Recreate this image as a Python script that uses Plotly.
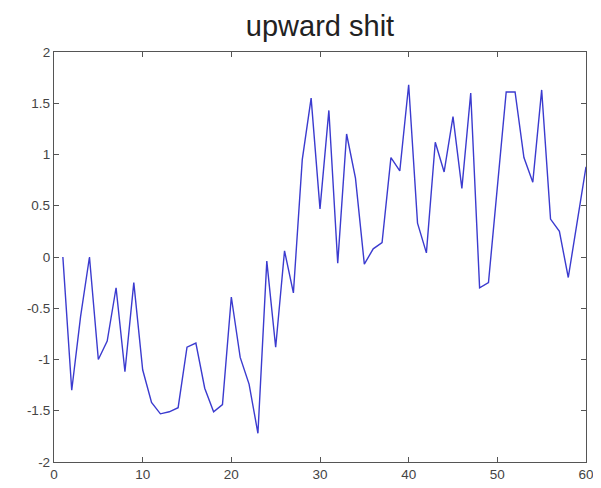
import plotly.graph_objects as go

x_vals = list(range(1, 61))
y_vals = [0.0, -1.30, -0.58, 0.0, -1.0, -0.82, -0.30, -1.12, -0.25, -1.10,
          -1.42, -1.53, -1.51, -1.47, -0.88, -0.84, -1.28, -1.51, -1.44, -0.39,
          -0.98, -1.24, -1.72, -0.04, -0.88, 0.06, -0.35, 0.95, 1.55, 0.47,
          1.43, -0.06, 1.20, 0.77, -0.07, 0.08, 0.14, 0.97, 0.84, 1.68,
          0.33, 0.04, 1.12, 0.83, 1.37, 0.67, 1.60, -0.30, -0.25, 0.68,
          1.61, 1.61, 0.97, 0.73, 1.63, 0.37, 0.25, -0.20, 0.34, 0.88]

x_ticks = [0, 10, 20, 30, 40, 50, 60]
y_ticks = [-2, -1.5, -1, -0.5, 0, 0.5, 1, 1.5, 2]
y_tick_text = ["-2", "-1.5", "-1", "-0.5", "0", "0.5", "1", "1.5", "2"]
title_text = "upward shit"

fig = go.Figure()
fig.add_trace(go.Scatter(x=x_vals, y=y_vals, mode="lines",
                         line=dict(color="#3b3bcf", width=1.4),
                         showlegend=False, hoverinfo="skip"))

axis_common = dict(showgrid=False, zeroline=False, showline=True,
                   linecolor="#555555", linewidth=1.3, mirror="allticks",
                   ticks="inside", ticklen=5, tickcolor="#555555", automargin=False,
                   tickfont=dict(family="Liberation Sans, Arial", size=13.5, color="#444444"))

# page body has an 8px default margin, so the figure is sized to fit the window
fig.update_layout(
    width=593, height=480,
    margin=dict(l=46, r=15, t=44, b=26, autoexpand=False),
    paper_bgcolor="white", plot_bgcolor="white",
    title=dict(text=title_text, x=0.5, xanchor="center", xref="paper",
               y=1 - 18 / 480, yref="container", yanchor="middle", automargin=False,
               font=dict(family="Liberation Sans, Arial", size=29, color="#222222")),
    xaxis=dict(range=[0, 60], tickvals=x_ticks, ticktext=[str(t) for t in x_ticks],
               **axis_common),
    yaxis=dict(range=[-2, 2], tickvals=y_ticks, ticktext=y_tick_text, **axis_common),
)

fig.write_html("out.html")
